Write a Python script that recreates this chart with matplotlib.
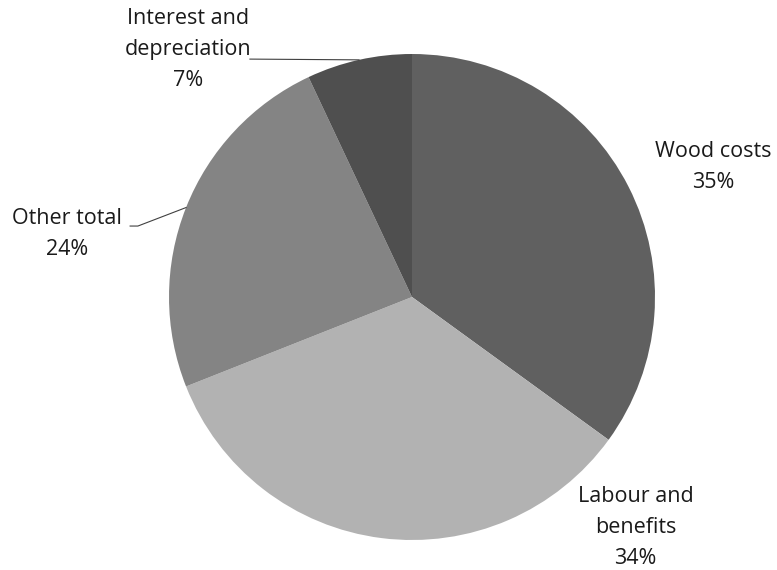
import matplotlib.pyplot as plt
import numpy as np

plt.rcParams['font.family'] = ['Open Sans', 'DejaVu Sans']

# cost shares, clockwise from 12 o'clock
labels = ['Wood costs', 'Labour and\nbenefits', 'Other total', 'Interest and\ndepreciation']
shares = [35, 34, 24, 7]
colors = ['#606060', '#b2b2b2', '#848484', '#4f4f4f']

# label placement in data units (pie radius = 1)
label_xy = [(1.24, 0.535), (0.92, -0.95), (-1.42, 0.26), (-0.92, 1.02)]

fig = plt.figure(figsize=(7.77, 5.70), dpi=100)
cx, cy, r = 412, 297, 243
ax = fig.add_axes([(cx - r) / 777, (570 - cy - r) / 570, 2 * r / 777, 2 * r / 570])

wedges, _ = ax.pie(shares, colors=colors, startangle=90, counterclock=False,
                   radius=1, wedgeprops=dict(linewidth=0))
ax.set_xlim(-1, 1)
ax.set_ylim(-1, 1)
ax.set_aspect('equal')
ax.axis('off')

for w, lab, val, (tx, ty) in zip(wedges, labels, shares, label_xy):
    ax.text(tx, ty, f'{lab}\n{val}%', ha='center', va='center', fontsize=15.5,
            color='#1a1a1a', linespacing=1.62, clip_on=False)

# leader lines for the two small labels on the left
def edge_point(w):
    mid = np.deg2rad((w.theta1 + w.theta2) / 2)
    return np.cos(mid), np.sin(mid)

ex, ey = edge_point(wedges[3])
ax.plot([ex, -0.667], [ey, 0.979], color='#404040', lw=0.8, clip_on=False)
ex, ey = edge_point(wedges[2])
ax.plot([ex, -1.128, -1.16], [ey, 0.292, 0.292], color='#404040', lw=0.8, clip_on=False)

fig.savefig('out.png', dpi=100)
